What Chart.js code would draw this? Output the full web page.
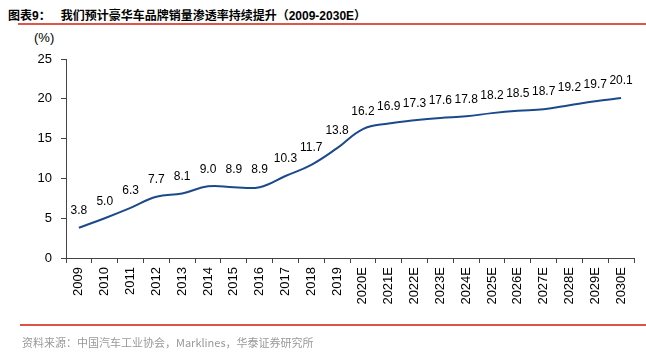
<!DOCTYPE html>
<html><head><meta charset="utf-8">
<script src="https://cdn.jsdelivr.net/npm/chart.js@4/dist/chart.umd.min.js"></script>
<style>
html,body{margin:0;padding:0;background:#fff;width:646px;height:356px;overflow:hidden;position:relative;font-family:"Liberation Sans",Arial,"Noto Sans CJK SC",sans-serif;}
#title{position:absolute;left:8px;top:6px;font-size:12px;font-weight:bold;color:#000;font-family:"Liberation Sans","Noto Sans CJK SC",sans-serif;white-space:nowrap;}
#tline{position:absolute;left:18px;top:23px;width:628px;height:2px;background:#e0554a;}
#unit{position:absolute;left:34px;top:30px;font-size:13px;color:#000;}
#bline{position:absolute;left:20px;top:324px;width:626px;height:1.5px;background:#d9534a;}
#src{position:absolute;left:22px;top:334px;font-size:11px;color:#999;font-family:"Noto Sans CJK SC","Liberation Sans",sans-serif;white-space:nowrap;}
#wrap{position:absolute;left:0;top:0;width:646px;height:356px;}
</style></head><body>
<div id="title">图表9：&nbsp;&nbsp;&nbsp;我们预计豪华车品牌销量渗透率持续提升（2009-2030E）</div>
<div id="tline"></div>
<div id="unit">(%)</div>
<div id="wrap"><canvas id="c" width="646" height="356"></canvas></div>
<div id="bline"></div>
<div id="src">资料来源：中国汽车工业协会，Marklines，华泰证券研究所</div>
<script>
const categories = ["2009","2010","2011","2012","2013","2014","2015","2016","2017","2018","2019","2020E","2021E","2022E","2023E","2024E","2025E","2026E","2027E","2028E","2029E","2030E"];
const penetration = [3.8,5.0,6.3,7.7,8.1,9.0,8.9,8.9,10.3,11.7,13.8,16.2,16.9,17.3,17.6,17.8,18.2,18.5,18.7,19.2,19.7,20.1];
const yTicks = [0,5,10,15,20,25];

const labelPlugin = {
  id:'labels',
  afterDatasetsDraw(chart){
    const ctx = chart.ctx;
    const meta = chart.getDatasetMeta(0);
    ctx.save();
    ctx.font = '12px "Liberation Sans", Arial, sans-serif';
    ctx.fillStyle = '#000';
    ctx.textAlign = 'center';
    ctx.textBaseline = 'middle';
    meta.data.forEach((pt,i)=>{
      ctx.fillText(penetration[i].toFixed(1), pt.x, pt.y - 17);
    });
    ctx.restore();
  }
};

new Chart(document.getElementById('c'),{
  type:'line',
  data:{labels:categories,datasets:[{data:penetration,borderColor:'#1b4a8c',borderWidth:2,pointRadius:0,tension:0.4,fill:false}]},
  options:{
    responsive:false,animation:false,
    layout:{padding:{top:59,right:12,bottom:0,left:0}},
    plugins:{legend:{display:false},tooltip:{enabled:false}},
    scales:{
      x:{
        offset:true,
        grid:{offset:true,drawOnChartArea:false,drawTicks:true,tickLength:5,color:'#444',lineWidth:1},
        border:{display:true,color:'#444',width:1},
        ticks:{minRotation:90,maxRotation:90,autoSkip:false,color:'#000',font:{size:13,family:'"Liberation Sans", Arial, sans-serif'},padding:4},
        afterFit(s){s.height=98;}
      },
      y:{
        min:0,max:25,
        afterBuildTicks(s){s.ticks=yTicks.map(v=>({value:v}));},
        grid:{drawOnChartArea:false,drawTicks:true,tickLength:5,color:'#444'},
        border:{display:true,color:'#444',width:1},
        ticks:{color:'#000',font:{size:13,family:'"Liberation Sans", Arial, sans-serif'},padding:9},
        afterFit(s){s.width=66;}
      }
    }
  },
  plugins:[labelPlugin]
});
</script>
</body></html>
